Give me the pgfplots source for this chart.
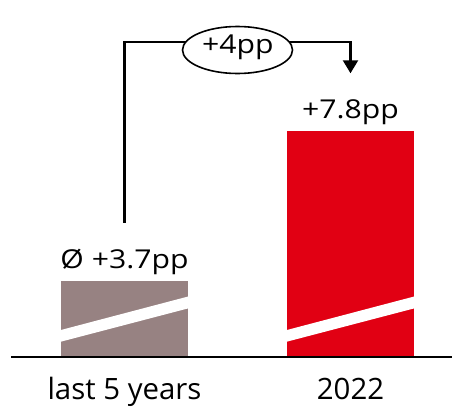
\documentclass[border=0pt]{standalone}
\usepackage{fontspec}
\setmainfont{Open Sans}
\newfontfamily\valfont[FakeStretch=1.16]{Open Sans}
\usepackage{pgfplots}
\pgfplotsset{compat=1.18}
\usetikzlibrary{arrows.meta,shapes.geometric}
\definecolor{avggray}{RGB}{151,130,130}
\definecolor{brandred}{RGB}{225,0,19}

\begin{document}
\begin{tikzpicture}
\path[use as bounding box] (0,0) rectangle (452pt,407pt);
\begin{axis}[
  at={(11pt,50.33pt)}, anchor=south west,
  scale only axis, width=441pt, height=356.67pt,
  xmin=-0.5022, xmax=1.4491, ymin=1.632, ymax=11.381,
  axis x line=bottom, axis y line=none,
  axis line style={-, line width=2pt, black},
  axis on top,
  xtick={0,1}, xticklabels={last 5 years,2022},
  major tick length=0pt,
  xticklabel style={font=\fontsize{29.4}{32}\selectfont, anchor=base, yshift=-43.3pt},
  ytick=\empty,
  bar width=0.562,
  point meta=explicit symbolic,
  nodes near coords,
  every node near coord/.append style={font=\valfont\fontsize{26}{28}\selectfont, anchor=base, yshift=12.7pt, text=black},
]
% average of the last five years and the 2022 value (axis broken below the bars)
\addplot[ybar, bar shift=0pt, fill=avggray, draw=none] coordinates {(0,3.7) [Ø +3.7pp]};
\addplot[ybar, bar shift=0pt, fill=brandred, draw=none] coordinates {(1,7.8) [+7.8pp]};

% axis-break bands across both bars
\fill[white] (axis cs:-0.29,2.028) -- (axis cs:0.29,2.965) -- (axis cs:0.29,3.290) -- (axis cs:-0.29,2.347) -- cycle;
\fill[white] (axis cs:0.71,2.028) -- (axis cs:1.29,2.965) -- (axis cs:1.29,3.290) -- (axis cs:0.71,2.347) -- cycle;

% difference bracket
\draw[line width=2.3pt, -{Triangle[width=15pt,length=13pt]}]
  (axis cs:0,5.286) |- (axis cs:1,10.225) -- (axis cs:1,9.378);
\node[draw, ellipse, line width=1.6pt, fill=white, inner sep=0pt,
      minimum width=110pt, minimum height=47pt] at (axis cs:0.5,10.014) {};
\node[anchor=base, font=\valfont\fontsize{26}{28}\selectfont] at (axis cs:0.502,9.905) {+4pp};
\end{axis}
\end{tikzpicture}
\end{document}
